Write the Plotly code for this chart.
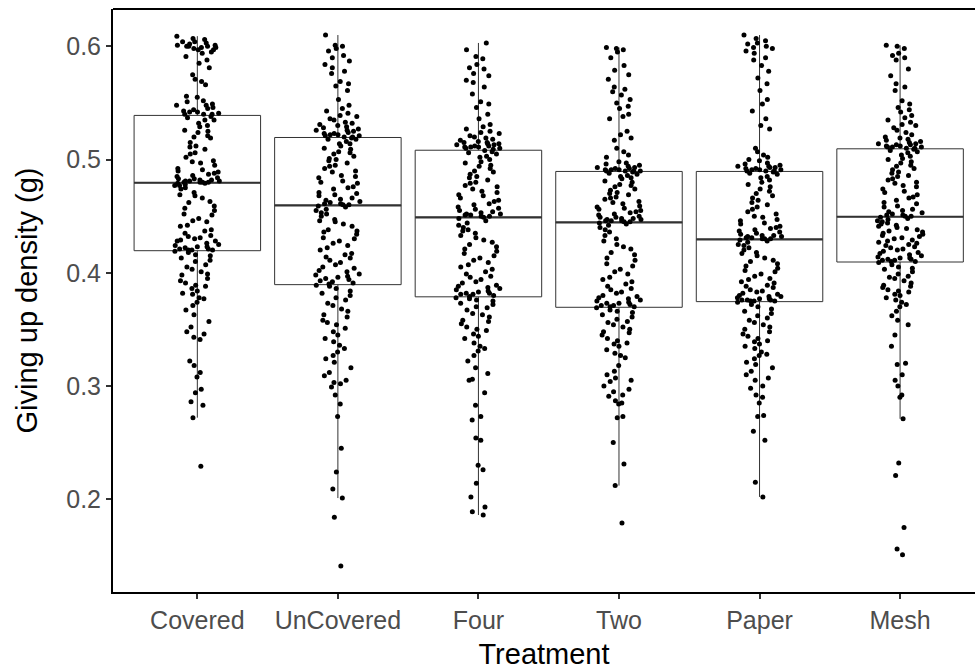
import numpy as np
import plotly.graph_objects as go

categories = ["Covered", "UnCovered", "Four", "Two", "Paper", "Mesh"]

covered = [
    0.609, 0.607, 0.606, 0.604, 0.604, 0.603, 0.602, 0.601, 0.601, 0.600, 0.600, 0.600, 0.599, 0.599,
    0.598, 0.597, 0.597, 0.595, 0.594, 0.591, 0.588, 0.585, 0.581, 0.575, 0.571, 0.569, 0.566,
    0.556, 0.555, 0.552, 0.551, 0.549, 0.548, 0.548, 0.546, 0.545, 0.544, 0.543, 0.542, 0.542, 0.541,
    0.540, 0.540, 0.540,
    0.538, 0.537, 0.535, 0.535, 0.532, 0.530, 0.529, 0.526, 0.525, 0.524, 0.521, 0.520, 0.519, 0.515,
    0.512, 0.511, 0.509, 0.506, 0.505, 0.502, 0.499, 0.498, 0.497, 0.495, 0.492, 0.491, 0.490, 0.489,
    0.488, 0.487, 0.486, 0.485, 0.484, 0.483, 0.483, 0.482, 0.482, 0.481, 0.481, 0.481, 0.480, 0.480,
    0.480, 0.480,
    0.479, 0.479, 0.478, 0.477, 0.477, 0.475, 0.474, 0.471, 0.469, 0.468, 0.466, 0.463, 0.462, 0.459,
    0.457, 0.455, 0.452, 0.451, 0.448, 0.446, 0.445, 0.442, 0.441, 0.438, 0.437, 0.435, 0.433, 0.432,
    0.431, 0.430, 0.429, 0.428, 0.428, 0.426, 0.425, 0.424, 0.423, 0.423, 0.422, 0.421, 0.421, 0.420,
    0.420, 0.420,
    0.419, 0.418, 0.416, 0.415, 0.413, 0.411, 0.410, 0.407, 0.405, 0.403, 0.401, 0.399, 0.398, 0.395,
    0.393, 0.391, 0.389, 0.388, 0.386, 0.384, 0.382, 0.381, 0.378, 0.377, 0.374, 0.371, 0.367, 0.363,
    0.357, 0.352, 0.348, 0.346, 0.343, 0.341, 0.322, 0.318, 0.312, 0.308, 0.297, 0.294, 0.286, 0.283,
    0.272, 0.229,
]

uncovered = [
    0.610, 0.601, 0.600, 0.598, 0.596, 0.592, 0.590, 0.587, 0.584, 0.581, 0.578, 0.576, 0.569, 0.567,
    0.565, 0.561, 0.553, 0.548, 0.545, 0.543, 0.541, 0.539, 0.538, 0.536, 0.535, 0.533, 0.532, 0.531,
    0.530, 0.529, 0.528, 0.527, 0.526, 0.526, 0.525, 0.524, 0.523, 0.523, 0.522, 0.522, 0.521, 0.521,
    0.520, 0.520,
    0.519, 0.518, 0.518, 0.516, 0.514, 0.514, 0.512, 0.510, 0.509, 0.507, 0.506, 0.505, 0.503, 0.501,
    0.500, 0.499, 0.497, 0.495, 0.494, 0.492, 0.490, 0.489, 0.486, 0.485, 0.484, 0.481, 0.480, 0.479,
    0.476, 0.475, 0.474, 0.471, 0.470, 0.469, 0.468, 0.466, 0.465, 0.464, 0.463, 0.462, 0.461, 0.461,
    0.460, 0.460,
    0.459, 0.458, 0.456, 0.455, 0.453, 0.452, 0.450, 0.447, 0.446, 0.445, 0.443, 0.441, 0.438, 0.437,
    0.436, 0.434, 0.431, 0.430, 0.428, 0.426, 0.424, 0.422, 0.420, 0.417, 0.416, 0.414, 0.413, 0.411,
    0.409, 0.407, 0.405, 0.404, 0.402, 0.401, 0.399, 0.398, 0.397, 0.396, 0.395, 0.394, 0.393, 0.392,
    0.391, 0.390,
    0.389, 0.388, 0.386, 0.384, 0.382, 0.380, 0.378, 0.376, 0.373, 0.371, 0.368, 0.366, 0.363, 0.361,
    0.358, 0.356, 0.354, 0.351, 0.348, 0.345, 0.342, 0.339, 0.336, 0.333, 0.330, 0.327, 0.324, 0.321,
    0.316, 0.312, 0.309, 0.305, 0.303, 0.302, 0.299, 0.292, 0.284, 0.273, 0.245, 0.224, 0.209, 0.201,
    0.184, 0.141,
]

four = [
    0.603, 0.597, 0.591, 0.589, 0.584, 0.581, 0.580, 0.576, 0.574, 0.570, 0.568, 0.564, 0.558, 0.551,
    0.549, 0.546, 0.540, 0.536, 0.531, 0.529, 0.527, 0.525, 0.524, 0.523, 0.521, 0.520, 0.519, 0.518,
    0.517, 0.516, 0.515, 0.515, 0.514, 0.514, 0.513, 0.513, 0.512, 0.512, 0.511, 0.511, 0.511, 0.510,
    0.510, 0.509,
    0.508, 0.507, 0.506, 0.505, 0.503, 0.502, 0.500, 0.498, 0.497, 0.495, 0.494, 0.492, 0.490, 0.489,
    0.487, 0.485, 0.484, 0.482, 0.480, 0.479, 0.477, 0.476, 0.474, 0.472, 0.471, 0.469, 0.468, 0.466,
    0.464, 0.463, 0.461, 0.460, 0.458, 0.457, 0.456, 0.455, 0.454, 0.453, 0.452, 0.452, 0.451, 0.451,
    0.450, 0.450,
    0.449, 0.448, 0.446, 0.444, 0.442, 0.440, 0.438, 0.437, 0.435, 0.433, 0.431, 0.429, 0.427, 0.425,
    0.423, 0.421, 0.419, 0.417, 0.415, 0.413, 0.411, 0.409, 0.407, 0.405, 0.403, 0.401, 0.399, 0.397,
    0.396, 0.394, 0.392, 0.391, 0.389, 0.388, 0.387, 0.386, 0.385, 0.384, 0.383, 0.382, 0.382, 0.381,
    0.381, 0.380,
    0.379, 0.378, 0.377, 0.376, 0.375, 0.373, 0.372, 0.370, 0.369, 0.367, 0.364, 0.363, 0.361, 0.358,
    0.357, 0.355, 0.352, 0.350, 0.349, 0.346, 0.344, 0.342, 0.338, 0.335, 0.333, 0.331, 0.327, 0.322,
    0.316, 0.311, 0.306, 0.305, 0.294, 0.283, 0.273, 0.270, 0.254, 0.252, 0.230, 0.226, 0.214, 0.202,
    0.193, 0.189, 0.186,
]

two = [
    0.599, 0.598, 0.597, 0.595, 0.590, 0.583, 0.579, 0.575, 0.571, 0.564, 0.562, 0.560, 0.557, 0.553,
    0.550, 0.547, 0.545, 0.540, 0.538, 0.536, 0.525, 0.522, 0.519, 0.517, 0.510, 0.507, 0.504, 0.502,
    0.498, 0.497, 0.496, 0.495, 0.494, 0.493, 0.493, 0.492, 0.492, 0.491, 0.491, 0.491, 0.490, 0.490,
    0.490, 0.490,
    0.489, 0.488, 0.487, 0.486, 0.485, 0.484, 0.483, 0.481, 0.480, 0.478, 0.477, 0.476, 0.474, 0.473,
    0.471, 0.470, 0.469, 0.467, 0.466, 0.465, 0.463, 0.462, 0.461, 0.459, 0.458, 0.457, 0.456, 0.455,
    0.454, 0.453, 0.452, 0.451, 0.450, 0.449, 0.449, 0.448, 0.448, 0.447, 0.447, 0.446, 0.446, 0.446,
    0.445, 0.445,
    0.444, 0.443, 0.442, 0.440, 0.438, 0.436, 0.433, 0.430, 0.428, 0.425, 0.423, 0.421, 0.418, 0.416,
    0.413, 0.411, 0.408, 0.406, 0.403, 0.401, 0.399, 0.396, 0.394, 0.392, 0.390, 0.388, 0.386, 0.385,
    0.383, 0.382, 0.380, 0.379, 0.378, 0.377, 0.376, 0.375, 0.374, 0.373, 0.373, 0.372, 0.371, 0.371,
    0.370, 0.370,
    0.369, 0.367, 0.366, 0.365, 0.363, 0.361, 0.359, 0.357, 0.356, 0.354, 0.352, 0.350, 0.348, 0.347,
    0.345, 0.342, 0.340, 0.338, 0.337, 0.335, 0.332, 0.329, 0.327, 0.325, 0.318, 0.313, 0.310, 0.307,
    0.305, 0.304, 0.300, 0.297, 0.295, 0.292, 0.291, 0.287, 0.285, 0.284, 0.273, 0.272, 0.250, 0.231,
    0.212, 0.179,
]

paper = [
    0.610, 0.607, 0.605, 0.603, 0.602, 0.600, 0.599, 0.598, 0.596, 0.594, 0.590, 0.588, 0.583, 0.578,
    0.572, 0.567, 0.561, 0.553, 0.549, 0.543, 0.536, 0.530, 0.527, 0.510, 0.507, 0.504, 0.502, 0.500,
    0.499, 0.497, 0.496, 0.495, 0.494, 0.494, 0.493, 0.493, 0.492, 0.492, 0.491, 0.491, 0.491, 0.490,
    0.490, 0.490,
    0.489, 0.488, 0.487, 0.485, 0.484, 0.482, 0.480, 0.478, 0.476, 0.474, 0.472, 0.470, 0.468, 0.466,
    0.464, 0.462, 0.460, 0.458, 0.456, 0.454, 0.452, 0.450, 0.449, 0.447, 0.446, 0.444, 0.443, 0.441,
    0.440, 0.439, 0.438, 0.437, 0.436, 0.435, 0.434, 0.433, 0.433, 0.432, 0.432, 0.431, 0.431, 0.430,
    0.430, 0.430,
    0.429, 0.428, 0.427, 0.425, 0.424, 0.422, 0.420, 0.418, 0.417, 0.415, 0.413, 0.411, 0.410, 0.408,
    0.406, 0.404, 0.402, 0.401, 0.399, 0.397, 0.395, 0.394, 0.392, 0.391, 0.389, 0.388, 0.387, 0.385,
    0.384, 0.383, 0.382, 0.381, 0.380, 0.379, 0.379, 0.378, 0.377, 0.377, 0.376, 0.376, 0.376, 0.375,
    0.375, 0.375,
    0.374, 0.372, 0.370, 0.368, 0.366, 0.364, 0.362, 0.360, 0.358, 0.356, 0.354, 0.352, 0.350, 0.348,
    0.346, 0.344, 0.342, 0.340, 0.339, 0.337, 0.335, 0.333, 0.330, 0.328, 0.327, 0.324, 0.321, 0.319,
    0.316, 0.313, 0.310, 0.307, 0.305, 0.300, 0.298, 0.292, 0.290, 0.285, 0.274, 0.273, 0.260, 0.252,
    0.215, 0.202,
]

mesh = [
    0.601, 0.600, 0.598, 0.594, 0.592, 0.590, 0.588, 0.580, 0.574, 0.567, 0.564, 0.561, 0.552, 0.549,
    0.546, 0.544, 0.542, 0.539, 0.537, 0.535, 0.533, 0.531, 0.530, 0.528, 0.526, 0.524, 0.522, 0.520,
    0.519, 0.518, 0.517, 0.516, 0.515, 0.514, 0.514, 0.513, 0.513, 0.512, 0.512, 0.511, 0.511, 0.511,
    0.510, 0.510,
    0.509, 0.508, 0.507, 0.506, 0.504, 0.503, 0.501, 0.500, 0.498, 0.497, 0.495, 0.494, 0.492, 0.491,
    0.489, 0.488, 0.486, 0.485, 0.483, 0.482, 0.480, 0.479, 0.477, 0.476, 0.474, 0.472, 0.471, 0.469,
    0.467, 0.466, 0.464, 0.462, 0.461, 0.459, 0.458, 0.456, 0.455, 0.454, 0.453, 0.452, 0.451, 0.451,
    0.450, 0.450,
    0.449, 0.448, 0.447, 0.446, 0.445, 0.444, 0.443, 0.442, 0.441, 0.440, 0.439, 0.438, 0.437, 0.436,
    0.435, 0.434, 0.433, 0.432, 0.431, 0.430, 0.429, 0.428, 0.427, 0.426, 0.425, 0.424, 0.423, 0.422,
    0.421, 0.420, 0.419, 0.418, 0.417, 0.416, 0.415, 0.414, 0.413, 0.413, 0.412, 0.412, 0.411, 0.411,
    0.410, 0.410,
    0.409, 0.407, 0.405, 0.404, 0.403, 0.401, 0.399, 0.397, 0.396, 0.395, 0.393, 0.391, 0.389, 0.388,
    0.387, 0.385, 0.384, 0.383, 0.381, 0.380, 0.378, 0.376, 0.374, 0.372, 0.370, 0.366, 0.362, 0.358,
    0.354, 0.345, 0.335, 0.320, 0.319, 0.310, 0.305, 0.300, 0.292, 0.290, 0.271, 0.232, 0.221, 0.175,
    0.156, 0.151,
]

groups = [covered, uncovered, four, two, paper, mesh]

FONT = "Liberation Sans, Arial, sans-serif"
BOX_W = 0.9

fig = go.Figure()
for cat, vals in zip(categories, groups):
    fig.add_trace(go.Box(
        y=vals, x=[cat] * len(vals), name=cat,
        boxpoints="all", jitter=0.36, pointpos=0,
        width=BOX_W, whiskerwidth=0,
        fillcolor="rgba(0,0,0,0)",
        line=dict(color="#333333", width=1),
        marker=dict(color="black", size=5, line=dict(width=0)),
        showlegend=False, hoverinfo="y",
    ))

shapes = []
for i, vals in enumerate(groups):
    med = float(np.median(vals))
    shapes.append(dict(type="line", xref="x", yref="y", layer="below",
                       x0=i - BOX_W / 2, x1=i + BOX_W / 2, y0=med, y1=med,
                       line=dict(color="#333333", width=2.2)))
# the panel continues past the right edge of the picture: keep that edge open
shapes.append(dict(type="rect", xref="paper", yref="paper", layer="above",
                   x0=0.995, x1=1.0, y0=0.003, y1=0.997,
                   fillcolor="white", line=dict(width=0)))
# top panel border
shapes.append(dict(type="line", xref="paper", yref="paper", layer="above",
                   x0=0, x1=1, y0=1, y1=1, line=dict(color="black", width=2)))

fig.update_layout(
    width=975, height=670,
    margin=dict(l=113, r=0, t=9, b=78),
    paper_bgcolor="white", plot_bgcolor="white",
    font=dict(family=FONT),
    shapes=shapes,
    xaxis=dict(
        type="category", categoryorder="array", categoryarray=categories,
        range=[-0.6, 5.533],
        showline=True, linecolor="black", linewidth=2, mirror=False,
        ticks="outside", ticklen=5, tickwidth=1.5, tickcolor="#333333",
        tickfont=dict(size=25, color="#4d4d4d", family=FONT),
        showgrid=False, zeroline=False,
        title=dict(text="Treatment", font=dict(size=29, color="black", family=FONT), standoff=12),
    ),
    yaxis=dict(
        range=[0.118, 0.633], mirror=False,
        tickvals=[0.2, 0.3, 0.4, 0.5, 0.6], ticktext=["0.2", "0.3", "0.4", "0.5", "0.6"],
        showline=True, linecolor="black", linewidth=2,
        ticks="outside", ticklen=5, tickwidth=1.5, tickcolor="#333333",
        tickfont=dict(size=25, color="#4d4d4d", family=FONT),
        showgrid=False, zeroline=False,
        title=dict(text="Giving up density (g)", font=dict(size=29, color="black", family=FONT), standoff=20),
    ),
)

fig.write_html("out.html")
